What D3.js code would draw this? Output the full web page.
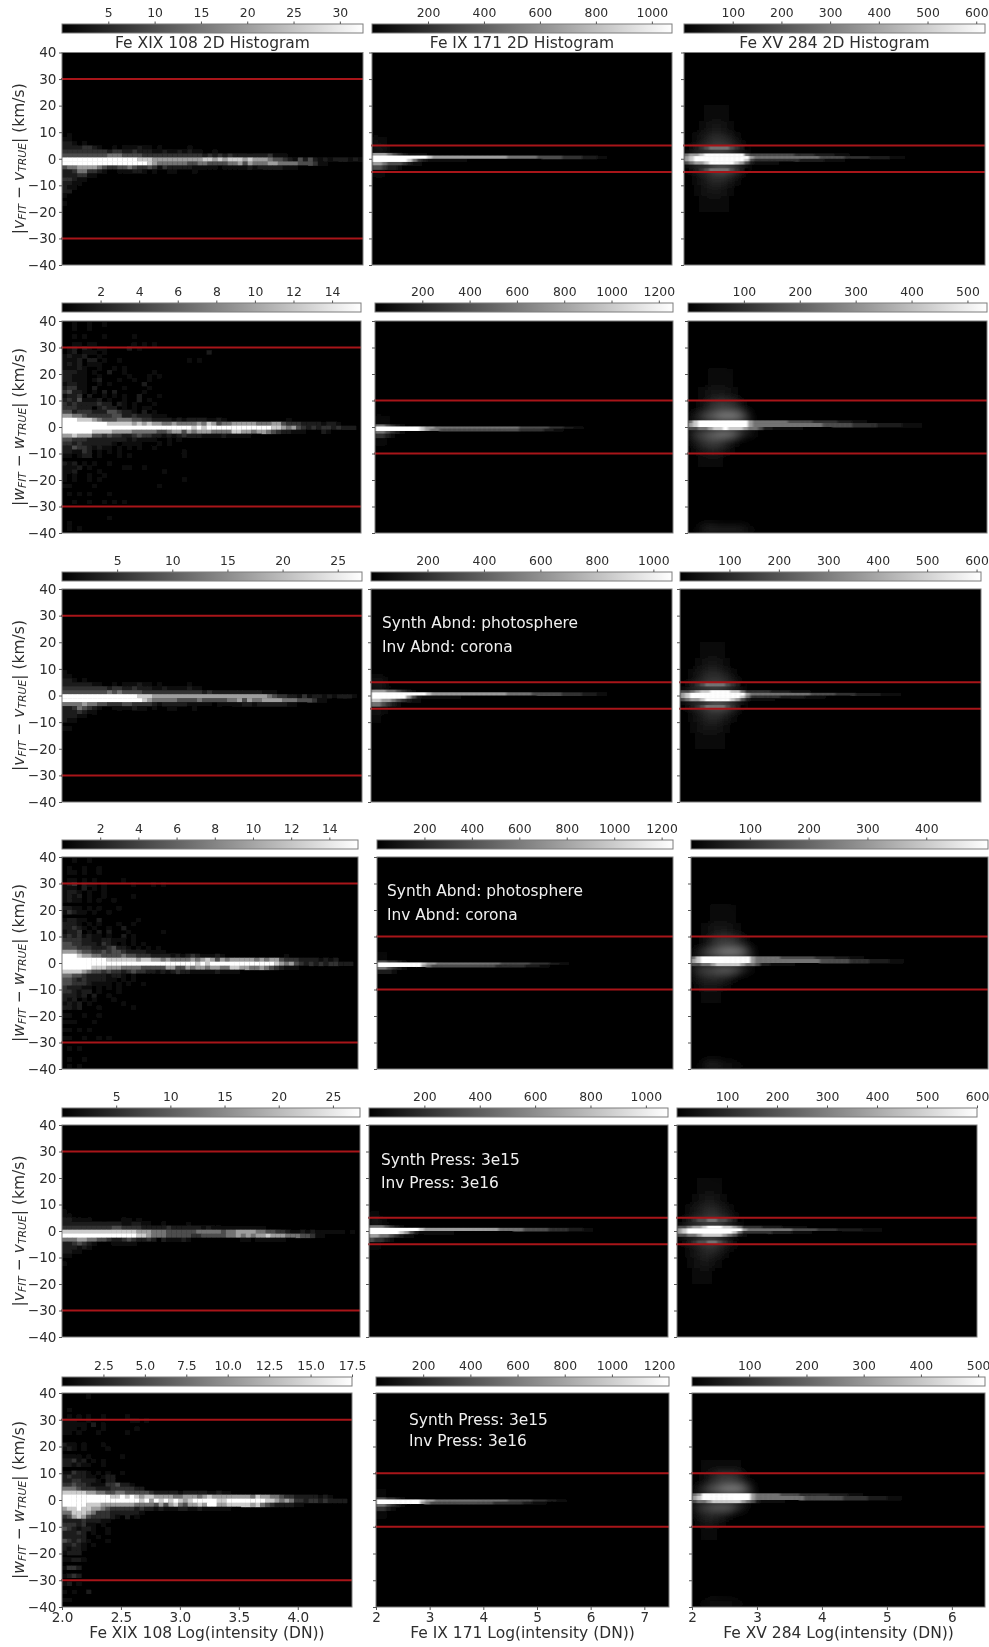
<!DOCTYPE html>
<html><head><meta charset="utf-8">
<script src="https://cdnjs.cloudflare.com/ajax/libs/d3/7.8.5/d3.min.js"></script>
<style>
html,body{margin:0;padding:0;background:#fff}
svg{display:block;filter:blur(0.4px)}
text{font-family:"DejaVu Sans",sans-serif;fill:#2e2e2e}
</style></head><body><div id="chart"></div>
<script>
// ---------- tick labels, ranges ----------
const yTicks = [-40,-30,-20,-10,0,10,20,30,40];
const xDomains = [[2,4.46],[2,7.46],[2,6.51]];
const xTicksBottom = [[2,2.5,3,3.5,4],[2,3,4,5,6,7],[2,3,4,5,6]];
const columnNames = ["Fe XIX 108","Fe IX 171","Fe XV 284"];
const rowMetric = ["v","w","v","w","v","w"];
const limitsBright = 30;
const limitsByRowMetric = {v:5,w:10};
const barMax = [[32.5,1072,618],[15.5,1260,535],[27.2,1066,609],[15.5,1248,505],[27.5,1080,600],[17.5,1242,512]];
const barTicks = [
 [[5,10,15,20,25,30],[200,400,600,800,1000],[100,200,300,400,500,600]],
 [[2,4,6,8,10,12,14],[200,400,600,800,1000,1200],[100,200,300,400,500]],
 [[5,10,15,20,25],[200,400,600,800,1000],[100,200,300,400,500,600]],
 [[2,4,6,8,10,12,14],[200,400,600,800,1000,1200],[100,200,300,400]],
 [[5,10,15,20,25],[200,400,600,800,1000],[100,200,300,400,500,600]],
 [[2.5,5,7.5,10,12.5,15,17.5],[200,400,600,800,1000,1200],[100,200,300,400,500]]
];
const notes = [
 {row:2,lines:["Synth Abnd: photosphere","Inv Abnd: corona"]},
 {row:3,lines:["Synth Abnd: photosphere","Inv Abnd: corona"]},
 {row:4,lines:["Synth Press: 3e15","Inv Press: 3e16"]},
 {row:5,lines:["Synth Press: 3e15","Inv Press: 3e16"]}
];
// brightness (fraction of colour-bar maximum) of each level symbol 0-9
const levels = [0,0.025,0.06,0.11,0.19,0.3,0.45,0.62,0.8,1];

// ---------- histogram cells: [yLow, yHigh, one level symbol per x bin] ----------
const cellsL1 = [
[24,25.5,"000000000000000100"],[15,16.5,"01000000000000100"],[11,12.5,"010001000000000000001"],
[8,9.5,"1210010000000000100000000"],[6.5,8,"2201100100000010000100"],[5,6.5,"33212110100110101001100000100"],
[3.5,5,"33334432112122232212110112000001"],[2,3.5,"44444444434433433322322323221121110001"],
[0.5,2,"55555555566655554444444444443434343333333422211001"],
[-1,0.5,"99999999999999988877777777778878788878777655432535323233323212"],
[-2.5,-1,"99999999999999999876666665566555566757666776666555422110001111"],
[-4,-2.5,"56677776544556544542433333222221222223233333222110"],
[-5.5,-4,"33466443211222332121122111211110111100110"],
[-7,-5.5,"33344221111111111001100010000000001"],[-8.5,-7,"443221011100100100"],
[-10,-8.5,"3322110010001"],[-11.5,-10,"3221010000010"],[-13,-11.5,"33110100"],
[-14.5,-13,"2110010"],[-17.5,-16,"2101001"],[-20.5,-19,"1100000000100"],[-25,-23.5,"0100"]
];
const cellsM1 = [
[13,18,"1"],[8,13,"211"],[4,8,"32211"],[2.2,4,"443211"],[1.2,2.2,"777654322221111111"],
[0,1.2,"9999999999987777777777777776666665555544443332211"],
[-1.2,0,"9999999864322222222111111111111111000"],
[-2.5,-1.2,"7765554322111111"],[-4,-2.5,"55433211"],[-6,-4,"332211"],[-10,-6,"211"]
];
const cellsR1 = [
[30,38,"00011100"],[20,30,"001111111"],[14,20,"0011222221"],[10,14,"01122333221"],[7,10,"012334443321"],
[5,7,"0123455554321"],[3.6,5,"1234566665431"],[2,3.6,"3456677776543"],
[1,2,"6778999999996555555555444433332221111"],
[0,1,"7899999999999766666666666665555544444333322211111"],
[-1,0,"7899999999998544444444433333222211111"],
[-2,-1,"5677899999875322222111"],[-3.6,-2,"3456678887643211"],[-5,-3.6,"1234566665431"],
[-7,-5,"0123455554321"],[-10,-7,"012334443321"],[-14,-10,"01223333221"],[-20,-14,"0012222221"],
[-30,-20,"0011111111"],[-38,-30,"00011"]
];
const cellsL2 = [
[38,39.5,"00200200200000"],[36.5,38,"0020020000100000000000000000"],[33.5,35,"0020201020010020"],
[30.5,32,"00220220100001202020"],[29,30.5,"0230320221010302"],
[27.5,29,"023122202000100000100000000003"],[26,27.5,"2322300200000000"],[24.5,26,"22230330200200000000000002020"],
[23,24.5,"23230222000000000"],[21.5,23,"2223200200202000000000100"],[20,21.5,"33322020030020100020"],
[18.5,20,"3322200200000200020200000000000000001"],[17,18.5,"332220230002002002000000"],
[15.5,17,"23322002020001003"],[14,15.5,"34422030000020000200"],[12.5,14,"4533202030300100200"],[11,12.5,"233403002020200300020"],
[9.5,11,"343522230200200302000000000000000"],[8,9.5,"434333343303202000200"],[6.5,8,"4443330343302020220"],
[5,6.5,"553444333554332030200"],[3.5,5,"77665444445533433322200100"],[2,3.5,"9998887655566655443333232333322321000000000012"],
[0.5,2,"99999999988888787877667666676875667777766677544433332332"],
[-1,0.5,"99999999999999999999999999898999999999999988767543434434333"],
[-2.5,-1,"99999988887777666665567757677766668877677654332221113211"],
[-4,-2.5,"77877755454433454433232343332222322222110"],[-5.5,-4,"5544433333333232222102121"],
[-7,-5.5,"4434333333202222010202"],[-8.5,-7,"3354432322020202002"],[-10,-8.5,"3322430202020000000000002"],
[-11.5,-10,"2202330200020200000000002"],[-14.5,-13,"3230202002"],[-16,-14.5,"2223020000002200200"],
[-17.5,-16,"22300002000000000000200"],[-19,-17.5,"2120020020"],[-20.5,-19,"20200202000000000000000020"],[-23,-21.5,"22000020000000000002"],
[-26,-24.5,"02020200020"],[-29,-27.5,"00200200202020"],[-35,-33.5,"000000000200"],[-37,-35.5,"02000000"],[-39,-37.5,"0202"]
];
const cellsM2 = [
[6,12,"1"],[1,4,"3221"],[0.2,1,"6654321111111"],
[-0.6,0.2,"9999999998776666666666666666655555544433221111"],
[-1.5,-0.6,"99999999987665555555555555555444443322111"],
[-2.5,-1.5,"6654321111111"],[-4,-2.5,"4432"],[-6,-4,"3321"],[-9,-6,"211"]
];
const cellsR2 = [
[30,38,"0001110"],[22,30,"00111111"],[15,22,"0011222221"],[10,15,"012233332211"],[6,10,"012345555431"],
[4.1,6,"123455666654"],[2.5,4.1,"3456778888763"],[1.5,2.5,"6899999999997666666655555444443332221111"],
[0,1.5,"7899999999997666666666666665555554444433333222211"],
[-1,0,"55667889888766533222222111111"],[-2.6,-1,"4566778887654211"],[-4.2,-2.6,"34556665543"],
[-7,-4.2,"2345555432"],[-10,-7,"1233443321"],[-15,-10,"01222221"],[-22,-15,"0011111"],
[-30,-22,"0011111"],[-37,-30,"00011"],[-40,-37.5,"0034444444432111111"]
];
const cellsL3 = [
[18,19.5,"010"],[12,13.5,"0100100"],[8,9.5,"21100100000001"],[6.5,8,"2210100100000100100"],[5,6.5,"33212110110010100100"],
[3.5,5,"33333322112122232212100112"],[2,3.5,"44444444434433433322322223221111110001"],
[0.5,2,"55555555565655554444444444443433333333332221100"],
[-1,0.5,"99999999999999988877777777777777777777777654433242332323332121"],
[-2.5,-1,"99999999999999998766666555565555566757667777666555422111011111"],
[-4,-2.5,"66667665544455444432333332222212222233233333322110"],
[-5.5,-4,"3346543211222232212112211121110011"],[-7,-5.5,"3334322111101110011"],[-8.5,-7,"33322101100100"],
[-10,-8.5,"3221100100010"],[-13,-11.5,"2211"],[-17.5,-16,"1101"],[-22,-20.5,"11"]
];
const cellsM3 = [
[12,18,"1"],[7,12,"211"],[4,7,"33211"],[2.2,4,"443211"],[1.2,2.2,"7776654321111111"],
[0,1.2,"9999999999987777777777777776666655555544443332211"],
[-1.2,0,"99999997532222222211111111111111100000"],
[-2.5,-1.2,"88776543221111"],[-4,-2.5,"6654321"],[-6,-4,"43321"],[-10,-6,"2211"]
];
const cellsR3 = [
[30,38,"00011100"],[20,30,"001111111"],[14,20,"0011222221"],[10,14,"01122333221"],[7,10,"012334443321"],
[5,7,"0123455554321"],[3.6,5,"1234566665431"],[2,3.6,"3456677776543"],
[1,2,"5567889999886444443333222211111"],
[0,1,"7899999999999766666666666655555444433333222211"],
[-1,0,"7899999999998644444433333222211111"],
[-2,-1,"5677899999875322222111"],[-3.6,-2,"3456678887643211"],[-5,-3.6,"1234566665431"],
[-7,-5,"0123455554321"],[-10,-7,"012334443321"],[-14,-10,"01223333221"],[-20,-14,"0012222221"],
[-30,-20,"0011111111"],[-38,-30,"00011"]
];
const cellsL4 = [
[38,39.5,"0020020000"],[35,36.5,"0200200200"],[33.5,35,"022020020"],[30.5,32,"02202020100020"],
[29,30.5,"234032202010002000202"],[27.5,29,"22213020200000"],[26,27.5,"23320200200000000"],[24.5,26,"23230200200000200000"],
[23,24.5,"232202020020000000000100"],[20,21.5,"33220202000200"],[18.5,20,"24322020020000"],
[15.5,17,"2332200300100002"],[14,15.5,"33320202000200200"],[12.5,14,"3343202002003"],[11,12.5,"2334020303000200000020"],
[9.5,11,"34342322020030200"],[8,9.5,"4444332233222020"],[6.5,8,"55443332432020202"],
[5,6.5,"55544433345332020202"],[3.5,5,"77765544545543333222201"],[2,3.5,"9998776655556554443333232343222321000000000002"],
[0.5,2,"99999999988888878877676666767875767777767677544433332323"],
[-1,0.5,"99999999999999999999999999989899999999999998767543434344333"],
[-2.5,-1,"99999988877766665555577557677677668877667654322211"],
[-4,-2.5,"8888765545443454433232343322222322221"],[-5.5,-4,"66554333323321211110011"],
[-7,-5.5,"5543433332202121"],[-8.5,-7,"55444322220202002"],[-10,-8.5,"4333220202020000000000"],
[-11.5,-10,"4432330200020"],[-13,-11.5,"3332303002"],[-14.5,-13,"3230202000200"],[-16,-14.5,"2323020000002"],
[-17.5,-16,"332300020000002"],[-20.5,-19,"2210200200"],[-23,-21.5,"22200020000000"],
[-26,-24.5,"2202020"],[-29,-27.5,"2200200202"],[-33,-31.5,"020200"],[-37,-35.5,"0200200"],[-39.5,-38,"0202"]
];
const cellsM4 = [
[6,12,"1"],[1,4,"2211"],[0.2,1,"5544321111111"],
[-0.6,0.2,"9999999998776666666666666555555444433221111"],
[-1.5,-0.6,"99999999976555555555555544444433322111"],
[-2.5,-1.5,"6654321111"],[-4,-2.5,"3332"],[-6,-4,"2221"],[-9,-6,"11"]
];
const cellsR4 = [
[30,38,"0001110"],[22,30,"00111111"],[15,22,"0011222221"],[10,15,"012233332211"],[6,10,"012345555431"],
[4.1,6,"123455666654"],[2.5,4.1,"3456778888763"],[1.5,2.5,"68999999999976666655555554444333222111"],
[0,1.5,"7899999999997666666666666655555544443333222111"],
[-1,0,"55667888887665332222211111"],[-2.6,-1,"4566677776542"],[-4.2,-2.6,"34455555432"],
[-7,-4.2,"2344444321"],[-10,-7,"123333221"],[-15,-10,"0122221"],[-22,-15,"001111"],
[-30,-22,"0011111"],[-37,-30,"00011"],[-40,-37.5,"0034443332111"]
];
const cellsL5 = [
[12,13.5,"010000100"],[8,9.5,"11000100000000100"],[6.5,8,"2110100000000000"],[5,6.5,"22110100110010000100"],
[3.5,5,"33222211011122121110100"],[2,3.5,"33333333333322332211211112111111"],
[0.5,2,"44444444445544443333343333332322222222222111"],
[-1,0.5,"88888888888888877766655555566666566777766554432232322222212111"],
[-2.5,-1,"99999999999999988766655555445555566767677877766655422111111111"],
[-4,-2.5,"66677665543345433431322232111111111122122222211"],
[-5.5,-4,"3345432111222221111"],[-7,-5.5,"33323211111001"],[-8.5,-7,"33221001000100"],
[-10,-8.5,"2211000"],[-13,-11.5,"2110"],[-17.5,-16,"1100"],[-22,-20.5,"01"]
];
const cellsM5 = [
[12,18,"1"],[7,12,"11"],[4,7,"2211"],[2.2,4,"44321"],[1.2,2.2,"66654321111"],
[0,1.2,"9999999999877777777777777766666555554444333221111"],
[-1.2,0,"99999987532222222111111111111000"],
[-2.5,-1.2,"77665432211"],[-4,-2.5,"544321"],[-6,-4,"3321"],[-10,-6,"211"]
];
const cellsR5 = [
[30,38,"0001"],[20,30,"0011111"],[14,20,"0011222221"],[10,14,"01122333221"],[7,10,"012334443321"],
[5,7,"0123445544321"],[3.6,5,"1234556655431"],[2,3.6,"3456677776543"],
[1,2,"5567789998876444433332222211111"],
[0,1,"7899999999999766666666655555444433333222211111"],
[-1,0,"789999999998644444433332222111111"],
[-2,-1,"556678888765321111"],[-3.6,-2,"345567776542"],[-5,-3.6,"1234556654321"],
[-7,-5,"0123445543321"],[-10,-7,"01233443321"],[-14,-10,"0122333221"],[-20,-14,"001222211"],
[-30,-20,"0011111"]
];
const cellsL6 = [
[38,39.5,"000002000"],[33,34.5,"0200000000000000000"],[30.5,32,"02020200200002000000"],[29,30.5,"22200200000000220200"],
[27.5,29,"22222030200000000100"],[26,27.5,"22202000200010020000000000"],[24.5,26,"22020002000002"],
[20,21.5,"322020002000000000100"],[18.5,20,"23202000020000"],[15.5,17,"22220200000020"],[14,15.5,"33423020200"],[12.5,14,"33232200200"],
[9.5,11,"22433202020020"],[8,9.5,"34333220233"],[6.5,8,"334433320330"],[5,6.5,"44544322244533200"],
[3.5,5,"6665444333444443300"],[2,3.5,"88888776655665555543333323333322322100000000"],
[0.5,2,"99999999998898987887777667776787777777768776654433333232"],
[-1,0.5,"99999999999999998979898987899999889999999988767644344343333"],
[-2.5,-1,"99999888777777766665757865778799778888878654333322"],
[-4,-2.5,"7889887765444443433232223322322222211"],[-5.5,-4,"66888764443333332"],[-7,-5.5,"4578754444320302"],
[-8.5,-7,"3333433322"],[-10,-8.5,"4443422020"],[-11.5,-10,"5432332002000"],[-13,-11.5,"3334302002"],[-14.5,-13,"3333300200"],
[-16,-14.5,"5434320002"],[-17.5,-16,"3343202000000"],[-19,-17.5,"3233200000"],[-20.5,-19,"2333000000"],
[-23,-21.5,"2233200"],[-26,-24.5,"2443"],[-29,-27.5,"2343"],[-32,-30.5,"2302"],[-35,-33.5,"2020030"],[-38,-36.5,"2200"]
];
const cellsM6 = [
[6,12,"1"],[1,4,"2211"],[0.2,1,"5544321111"],
[-0.6,0.2,"9999999998776666666666666665555544433221111"],
[-1.5,-0.6,"99999999976555555555555544444433222111"],
[-2.5,-1.5,"6654321111"],[-4,-2.5,"4432"],[-6,-4,"3321"],[-9,-6,"11"]
];
const cellsR6 = [
[30,38,"00011"],[22,30,"00111111"],[15,22,"0011111111"],[10,15,"012222222211"],[6,10,"012345555431"],
[4.1,6,"123455666654"],[2.5,4.1,"3456778888763"],[1.5,2.5,"67999999999976666655554444443333222111"],
[0,1.5,"7899999999997666666666655555555444443333222111"],
[-1,0,"5667888888765322222111"],[-2.6,-1,"456677776542"],[-4.2,-2.6,"34455555432"],
[-7,-4.2,"234444321"],[-10,-7,"12333221"],[-15,-10,"0122211"],[-22,-15,"001111"],
[-30,-22,"0011111"],[-37,-30,"00011"],[-40,-37.5,"0023333332111"]
];
const cellGrid = [[cellsL1,cellsM1,cellsR1],[cellsL2,cellsM2,cellsR2],[cellsL3,cellsM3,cellsR3],
                  [cellsL4,cellsM4,cellsR4],[cellsL5,cellsM5,cellsR5],[cellsL6,cellsM6,cellsR6]];

// ---------- page layout ----------
const W = 989, H = 1647, binsAcross = 60;
const rowLayout = [
 {bar:24,top:52.5,bot:265},{bar:303,top:321,bot:533},{bar:572,top:589,bot:802},
 {bar:840,top:857,bot:1069},{bar:1108,top:1125,bot:1337},{bar:1377,top:1393,bot:1607}];
const colLayout = [
 [[62,363],[372,672],[684,985]],
 [[62,361],[375,673],[688,987]],
 [[62,362],[371,672],[680,981]],
 [[62,358],[377,673],[691,988]],
 [[62,360],[369,668],[677,977]],
 [[62,352],[376,669],[692,985]]];
const noteSpots = [{x:382,y:[628,652]},{x:387,y:[896,920]},{x:381,y:[1165,1188]},{x:409,y:[1425,1446]}];

const svg = d3.select("#chart").append("svg").attr("width",W).attr("height",H).attr("viewBox",[0,0,W,H]);
const defs = svg.append("defs");
const grad = defs.append("linearGradient").attr("id","gray");
d3.range(0,1.01,0.1).forEach(t=>grad.append("stop").attr("offset",t).attr("stop-color",d3.rgb(t*255,t*255,t*255)));
function soft(id,s){ defs.append("filter").attr("id",id).attr("x","-15%").attr("y","-15%").attr("width","130%").attr("height","130%")
  .append("feGaussianBlur").attr("stdDeviation",s); }
soft("softL",0.4); soft("softRidge","1.3 0.6"); soft("softHalo","5 4.5");
const spine = "#7d7d7d", tickC = "#555";
const tone = d3.scaleLinear().domain([0,1]).range(["#000","#fff"]).clamp(true);

function style(ax){ ax.selectAll(".domain").remove(); ax.selectAll("line").attr("stroke",tickC); }

rowLayout.forEach((R,r)=>{
 [0,1,2].forEach(c=>{
  const [x0,x1] = colLayout[r][c];
  const x = d3.scaleLinear().domain(xDomains[c]).range([x0,x1]);
  const y = d3.scaleLinear().domain([-40,40]).range([R.bot,R.top]);
  const g = svg.append("g");
  const vmax = barMax[r][c];
  const val = d3.scaleLinear().domain([0,vmax]).range([0,1]);
  // colour bar
  const bx = d3.scaleLinear().domain([0,vmax]).range([x0,x1]);
  g.append("rect").attr("x",x0).attr("y",R.bar).attr("width",x1-x0).attr("height",9)
    .attr("fill","url(#gray)").attr("stroke",spine).attr("stroke-width",1);
  const fmt = (r===5 && c===0) ? d3.format(".1f") : d3.format("d");
  const barAxis = g.append("g").attr("transform",`translate(0,${R.bar})`)
    .call(d3.axisTop(bx).tickValues(barTicks[r][c]).tickSize(2.5).tickPadding(4.5).tickFormat(fmt));
  style(barAxis); barAxis.selectAll("text").attr("font-size",12.4).attr("font-family",'"DejaVu Sans"');
  // panel background
  g.append("rect").attr("x",x0).attr("y",R.top).attr("width",x1-x0).attr("height",R.bot-R.top).attr("fill","#000");
  const clipId = `clip${r}${c}`;
  defs.append("clipPath").attr("id",clipId).append("rect").attr("x",x0).attr("y",R.top).attr("width",x1-x0).attr("height",R.bot-R.top);
  const clipG = g.append("g").attr("clip-path",`url(#${clipId})`);
  const haloG = clipG.append("g").attr("filter","url(#softHalo)").attr("opacity",0.78);
  const ridgeG = clipG.append("g").attr("filter",c===0?"url(#softL)":"url(#softRidge)");
  const dx = (xDomains[c][1]-xDomains[c][0])/binsAcross;
  cellGrid[r][c].forEach(([yLo,yHi,str])=>{
    const cells = Array.from(str,(s,i)=>({i,v:levels[+s]*vmax})).filter(d=>d.v>0);
    const host = (c===0 || yHi-yLo<=1.5) ? ridgeG : haloG;
    host.selectAll(null).data(cells).join("rect")
      .attr("x",d=>x(2+d.i*dx)).attr("width",x(2+dx)-x(2)+0.3)
      .attr("y",y(yHi)).attr("height",y(yLo)-y(yHi)+0.5)
      .attr("fill",d=>tone(val(d.v)));
  });
  // limits
  const lim = c===0 ? limitsBright : limitsByRowMetric[rowMetric[r]];
  g.selectAll(null).data([lim,-lim]).join("line")
    .attr("x1",x0-1).attr("x2",x1).attr("y1",d=>y(d)).attr("y2",d=>y(d))
    .attr("stroke","#a81519").attr("stroke-width",2);
  // frame
  g.append("rect").attr("x",x0).attr("y",R.top).attr("width",x1-x0).attr("height",R.bot-R.top)
    .attr("fill","none").attr("stroke",spine).attr("stroke-width",1);
  // y axis
  const yAxis = g.append("g").attr("transform",`translate(${x0},0)`)
    .call(d3.axisLeft(y).tickValues(yTicks).tickSize(3).tickPadding(2.5)
      .tickFormat(c===0?(d=>d3.format("")(d).replace("-","\u2212")):""));
  style(yAxis); yAxis.selectAll("text").attr("font-size",13.6);
  // x axis on last row
  if(r===5){
    const xAxis = g.append("g").attr("transform",`translate(0,${R.bot})`)
      .call(d3.axisBottom(x).tickValues(xTicksBottom[c]).tickSize(3).tickPadding(2.5)
        .tickFormat(c===0?d3.format(".1f"):d3.format("d")));
    style(xAxis); xAxis.selectAll("text").attr("font-size",13.6);
    g.append("text").attr("x",(x0+x1)/2).attr("y",H-9).attr("text-anchor","middle").attr("font-size",15.5)
      .text(columnNames[c]+" Log(intensity (DN))");
  }
  // titles
  if(r===0){
    g.append("text").attr("x",(x0+x1)/2).attr("y",R.top-4.5).attr("text-anchor","middle").attr("font-size",15.5)
      .text(columnNames[c]+" 2D Histogram");
  }
 });
 // y label
 const m = rowMetric[r], cy=(R.top+R.bot)/2;
 const lab = svg.append("text").attr("transform",`translate(24,${cy}) rotate(-90)`).attr("text-anchor","middle").attr("font-size",15.5);
 lab.append("tspan").text("|");
 lab.append("tspan").attr("font-style","italic").text(m);
 lab.append("tspan").attr("font-style","italic").attr("font-size",10.8).attr("dy",2.2).text("FIT");
 lab.append("tspan").attr("dy",-2.2).text(" \u2212 ");
 lab.append("tspan").attr("font-style","italic").text(m);
 lab.append("tspan").attr("font-style","italic").attr("font-size",10.8).attr("dy",2.2).text("TRUE");
 lab.append("tspan").attr("dy",-2.2).text("| (km/s)");
});

// notes inside the middle panels
notes.forEach((n,i)=>{
  n.lines.forEach((t,j)=>{
    svg.append("text").attr("x",noteSpots[i].x).attr("y",noteSpots[i].y[j]).attr("font-size",15.4)
      .style("fill","#f0f0f0").text(t);
  });
});
</script></body></html>
